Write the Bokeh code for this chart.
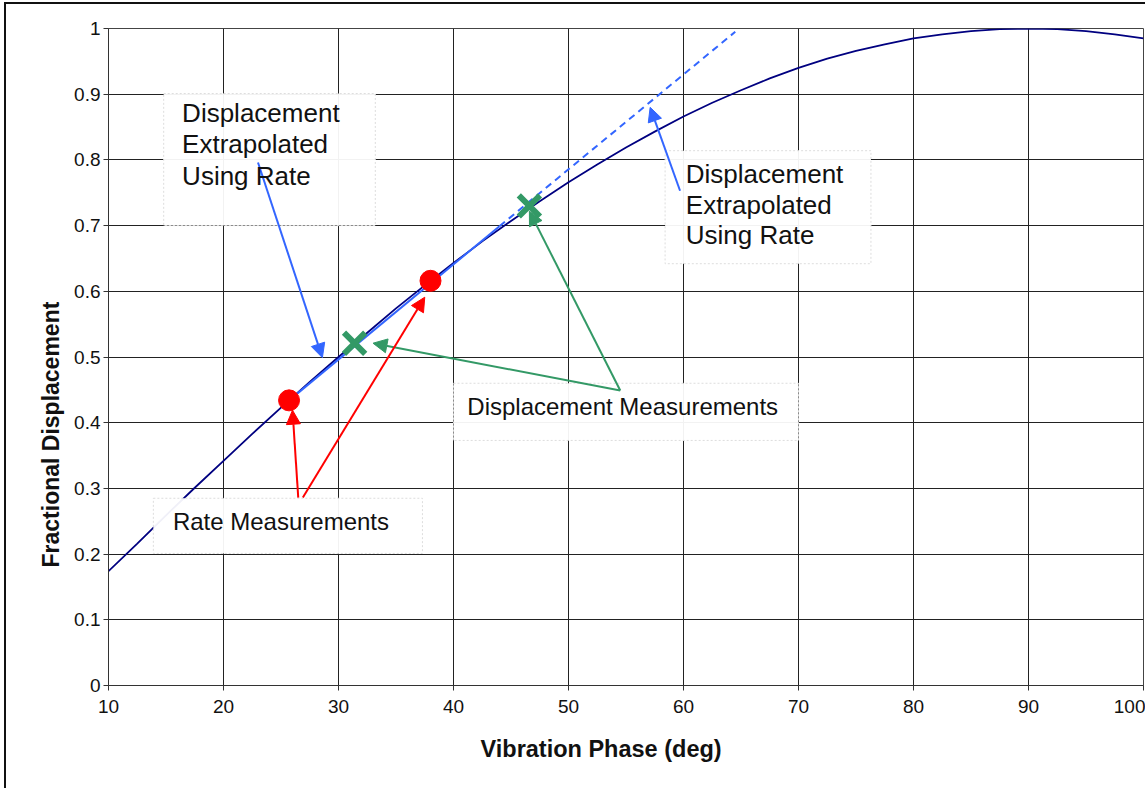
from bokeh.plotting import figure
from bokeh.models import (Arrow, NormalHead, Label, FixedTicker, NumeralTickFormatter, Range1d, Title)
from bokeh.embed import file_html
from bokeh.resources import INLINE

# ---- data ----
phase_deg = [10, 12.5, 15, 17.5, 20, 22.5, 25, 27.5, 30, 32.5, 35, 37.5, 40, 42.5, 45, 47.5,
             50, 52.5, 55, 57.5, 60, 62.5, 65, 67.5, 70, 72.5, 75, 77.5, 80, 82.5, 85, 87.5,
             90, 92.5, 95, 97.5, 100]
frac_disp = [0.174, 0.216, 0.259, 0.301, 0.342, 0.383, 0.423, 0.462, 0.500, 0.537, 0.574,
             0.609, 0.643, 0.676, 0.707, 0.737, 0.766, 0.793, 0.819, 0.843, 0.866, 0.887,
             0.906, 0.924, 0.940, 0.954, 0.966, 0.976, 0.985, 0.991, 0.996, 0.999, 1.000,
             0.999, 0.996, 0.991, 0.985]

rate_x = [25.7, 38.0]
rate_y = [0.434, 0.616]

disp_x = [31.4, 46.6]
disp_y = [0.521, 0.730]

extrap_solid_x = [25.7, 44.0]
extrap_solid_y = [0.434, 0.699]
extrap_dash_x = [44.0, 64.5]
extrap_dash_y = [0.699, 0.995]

x_ticks = [10, 20, 30, 40, 50, 60, 70, 80, 90, 100]
y_ticks = [0, 0.1, 0.2, 0.3, 0.4, 0.5, 0.6, 0.7, 0.8, 0.9, 1.0]

# annotation boxes: (left, right), (top, bottom)
box_left_x = [14.8, 33.2]
box_left_y = [0.901, 0.700]
box_right_x = [58.4, 76.3]
box_right_y = [0.814, 0.642]
box_dm_x = [40.0, 70.0]
box_dm_y = [0.460, 0.373]
box_rm_x = [13.9, 37.3]
box_rm_y = [0.285, 0.201]

# arrows: (x_start, y_start, x_end, y_end)
blue_arrows = [(23.0, 0.796, 28.6, 0.499), (59.7, 0.753, 57.1, 0.880)]
green_arrows = [(54.5, 0.449, 46.6, 0.722), (54.5, 0.449, 33.0, 0.521)]
red_arrows = [(26.5, 0.286, 26.0, 0.419), (26.9, 0.286, 37.5, 0.591)]

BLUE = "#3366FF"
GREEN = "#339966"
RED = "#FF0000"
NAVY = "#000080"

p = figure(width=1141, height=786, output_backend="svg", toolbar_location=None,
           x_range=Range1d(10, 100), y_range=Range1d(0, 1),
           min_border_left=102, min_border_right=4, min_border_top=24, min_border_bottom=105,
           background_fill_color="white", border_fill_color="white")

p.styles = {"border-left": "2px solid #111", "border-top": "2px solid #111",
            "margin-left": "4px", "margin-top": "2px"}

p.outline_line_color = "#444444"
p.outline_line_width = 1

for ax in (p.xaxis[0], p.yaxis[0]):
    ax.axis_line_color = "#333333"
    ax.major_tick_line_color = "#333333"
    ax.major_tick_out = 5
    ax.major_tick_in = 0
    ax.minor_tick_line_color = None
    ax.major_label_text_font = "Liberation Sans"
    ax.major_label_text_font_size = "19px"
    ax.major_label_text_color = "#111111"

p.xaxis.ticker = FixedTicker(ticks=x_ticks)
p.yaxis.ticker = FixedTicker(ticks=y_ticks)
p.yaxis.formatter = NumeralTickFormatter(format="0.[0]")
p.xaxis.major_label_standoff = 9
p.yaxis.major_label_standoff = 3

p.xgrid.grid_line_color = "#222222"
p.ygrid.grid_line_color = "#222222"
p.xgrid.grid_line_width = 1
p.ygrid.grid_line_width = 1

# axis titles
p.add_layout(Title(text="Vibration Phase (deg)", align="left", offset=372,
                   text_font="Liberation Sans", text_font_size="23.5px", text_font_style="bold",
                   text_color="#111111", standoff=36), "below")
p.add_layout(Title(text="Fractional Displacement", align="left", offset=118,
                   text_font="Liberation Sans", text_font_size="23px", text_font_style="bold",
                   text_color="#111111", standoff=16), "left")

# curve
p.line(phase_deg, frac_disp, line_color=NAVY, line_width=1.8)

# boxes
for bx, by in [(box_left_x, box_left_y), (box_right_x, box_right_y),
               (box_dm_x, box_dm_y), (box_rm_x, box_rm_y)]:
    p.quad(left=bx[0], right=bx[1], top=by[0], bottom=by[1],
           fill_color="white", fill_alpha=0.94,
           line_color="#dddddd", line_width=1, line_dash="2 2")

# extrapolation line
p.line(extrap_solid_x, extrap_solid_y, line_color=BLUE, line_width=2)
p.line(extrap_dash_x, extrap_dash_y, line_color=BLUE, line_width=2, line_dash="7 5")

# markers
p.scatter(rate_x, rate_y, marker="circle", size=21, fill_color=RED, line_color=RED)
p.scatter(disp_x, disp_y, marker="x", size=30, line_color=GREEN, line_width=6)

def add_arrows(lst, color):
    for xs, ys, xe, ye in lst:
        p.add_layout(Arrow(end=NormalHead(size=14, fill_color=color, line_color=color),
                           x_start=xs, y_start=ys, x_end=xe, y_end=ye,
                           line_color=color, line_width=2))

add_arrows(blue_arrows, BLUE)
add_arrows(green_arrows, GREEN)
add_arrows(red_arrows, RED)

# texts
def add_text(x, y, s, size):
    p.add_layout(Label(x=x, y=y, text=s, text_font="Liberation Sans",
                       text_font_size=size, text_color="#111111",
                       text_baseline="middle", text_align="left"))

for yy, s in zip([0.871, 0.824, 0.776], ["Displacement", "Extrapolated", "Using Rate"]):
    add_text(16.4, yy, s, "26px")
for yy, s in zip([0.779, 0.732, 0.685], ["Displacement", "Extrapolated", "Using Rate"]):
    add_text(60.2, yy, s, "26px")
add_text(41.2, 0.425, "Displacement Measurements", "24px")
add_text(15.6, 0.250, "Rate Measurements", "24px")

open("out.html", "w").write(file_html(p, INLINE))
